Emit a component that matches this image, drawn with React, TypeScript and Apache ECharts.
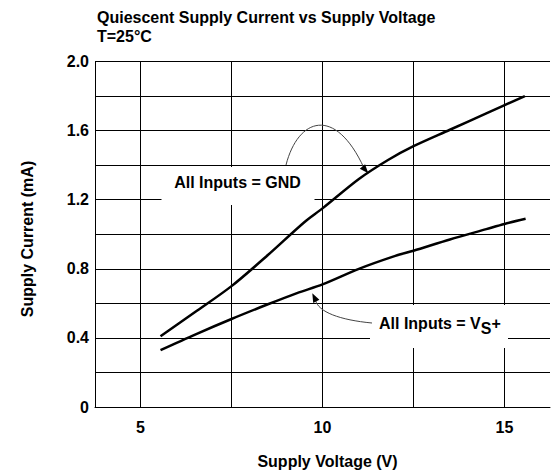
import React, { useEffect, useRef } from "react";
import * as echarts from "echarts";

const gndX = [5.55, 6.5, 7.5, 8.5, 9.5, 10, 11, 11.8, 12.5, 13.5, 14.5, 15.56];
const gndY = [0.41, 0.55, 0.7, 0.88, 1.07, 1.15, 1.32, 1.43, 1.51, 1.605, 1.7, 1.8];
const vsX = [5.55, 6.5, 7.5, 8.5, 9.3, 10, 11, 12, 12.5, 13.5, 14.5, 15, 15.58];
const vsY = [0.33, 0.42, 0.51, 0.595, 0.66, 0.71, 0.8, 0.875, 0.905, 0.97, 1.03, 1.06, 1.09];
const xGridLines = [5, 7.5, 10, 12.5, 15];
const xLabels = [5, 10, 15];
const yLabels = [0, 0.4, 0.8, 1.2, 1.6, 2.0];

const FONT = "'Liberation Sans', Arial, Helvetica, sans-serif";

export default function App() {
  const ref = useRef<HTMLDivElement>(null);
  useEffect(() => {
    if (!ref.current) return;
    const chart = echarts.init(ref.current, null, { renderer: "svg" });
    const textBase = { fontFamily: FONT, fontWeight: "bold", fontSize: 16, fill: "#000" };
    chart.setOption({
      animation: false,
      backgroundColor: "#fff",
      grid: { left: 95, top: 61.5, width: 460, height: 345.6, containLabel: false },
      xAxis: {
        type: "value",
        min: 3.75,
        max: 16.25,
        interval: 1.25,
        axisLine: { show: true, lineStyle: { color: "#000", width: 1 } },
        axisTick: { show: false },
        splitLine: { show: false },
        axisLabel: {
          margin: 12,
          color: "#000",
          fontFamily: FONT,
          fontWeight: "bold",
          fontSize: 16,
          showMinLabel: true,
          showMaxLabel: true,
          formatter: (v: number) => (xLabels.some((l) => Math.abs(l - v) < 1e-6) ? String(v) : ""),
        },
      },
      yAxis: {
        type: "value",
        min: 0,
        max: 2.0,
        interval: 0.2,
        axisLine: { show: true, lineStyle: { color: "#000", width: 1 } },
        axisTick: { show: false },
        splitLine: { show: true, lineStyle: { color: "#000", width: 1 } },
        axisLabel: {
          margin: 6,
          color: "#000",
          fontFamily: FONT,
          fontWeight: "bold",
          fontSize: 16,
          formatter: (v: number) => {
            const hit = yLabels.find((l) => Math.abs(l - v) < 1e-6);
            if (hit === undefined) return "";
            return hit === 0 ? "0" : hit.toFixed(1);
          },
        },
      },
      series: [
        {
          type: "line",
          data: [],
          z: 1,
          silent: true,
          markLine: {
            silent: true,
            symbol: ["none", "none"],
            label: { show: false },
            lineStyle: { color: "#000", width: 1, type: "solid" },
            data: xGridLines.map((v) => ({ xAxis: v })),
          },
        },
        {
          name: "All Inputs = GND",
          type: "line",
          z: 5,
          smooth: 0.3,
          symbol: "none",
          lineStyle: { color: "#000", width: 2.5 },
          data: gndX.map((x, i) => [x, gndY[i]]),
        },
        {
          name: "All Inputs = VS+",
          type: "line",
          z: 5,
          smooth: 0.3,
          symbol: "none",
          lineStyle: { color: "#000", width: 2.5 },
          data: vsX.map((x, i) => [x, vsY[i]]),
        },
      ],
      graphic: [
        {
          type: "text",
          z: 100,
          style: { ...textBase, x: 97, y: 17, text: "Quiescent Supply Current vs Supply Voltage", verticalAlign: "middle", align: "left" },
        },
        {
          type: "text",
          z: 100,
          style: { ...textBase, x: 97, y: 36.5, text: "T=25°C", verticalAlign: "middle", align: "left" },
        },
        {
          type: "text",
          z: 100,
          x: 27.5,
          y: 239,
          rotation: Math.PI / 2,
          style: { ...textBase, x: 0, y: 0, text: "Supply Current (mA)", verticalAlign: "middle", align: "center" },
        },
        {
          type: "text",
          z: 100,
          style: { ...textBase, x: 327.5, y: 461, text: "Supply Voltage (V)", verticalAlign: "middle", align: "center" },
        },
        { type: "rect", z: 100, shape: { x: 161.5, y: 167, width: 153, height: 38 }, style: { fill: "#fff" } },
        {
          type: "text",
          z: 101,
          style: { ...textBase, x: 237.5, y: 182, text: "All Inputs = GND", verticalAlign: "middle", align: "center" },
        },
        { type: "rect", z: 100, shape: { x: 370, y: 305, width: 138, height: 43 }, style: { fill: "#fff" } },
        {
          type: "text",
          z: 101,
          style: {
            x: 379,
            y: 315,
            align: "left",
            verticalAlign: "top",
            text: "{a|All Inputs = V}{s|S}{a|+}",
            rich: {
              a: { fontFamily: FONT, fontWeight: "bold", fontSize: 16, fill: "#000", verticalAlign: "top", lineHeight: 18 },
              s: { fontFamily: FONT, fontWeight: "bold", fontSize: 16, fill: "#000", verticalAlign: "top", lineHeight: 18, padding: [5, 0, 0, 0] },
            },
          },
        },
        {
          type: "bezierCurve",
          z: 102,
          shape: { x1: 286, y1: 165, cpx1: 298, cpy1: 118, cpx2: 335, cpy2: 105, x2: 364, y2: 168 },
          style: { stroke: "#444", lineWidth: 1, fill: "none" },
        },
        {
          type: "polygon",
          z: 102,
          shape: { points: [[368.3, 173.3], [359.75, 168.8], [365.05, 164.2]] },
          style: { fill: "#000" },
        },
        {
          type: "bezierCurve",
          z: 102,
          shape: { x1: 372, y1: 323, cpx1: 340, cpy1: 320, cpx2: 318, cpy2: 312, x2: 315.5, y2: 300 },
          style: { stroke: "#444", lineWidth: 1, fill: "none" },
        },
        {
          type: "polygon",
          z: 102,
          shape: { points: [[312.3, 293.3], [319.4, 299.8], [313.2, 302.9]] },
          style: { fill: "#000" },
        },
      ],
    });
    return () => chart.dispose();
  }, []);
  return <div ref={ref} style={{ position: "absolute", left: 0, top: 0, width: 553, height: 474 }} />;
}
